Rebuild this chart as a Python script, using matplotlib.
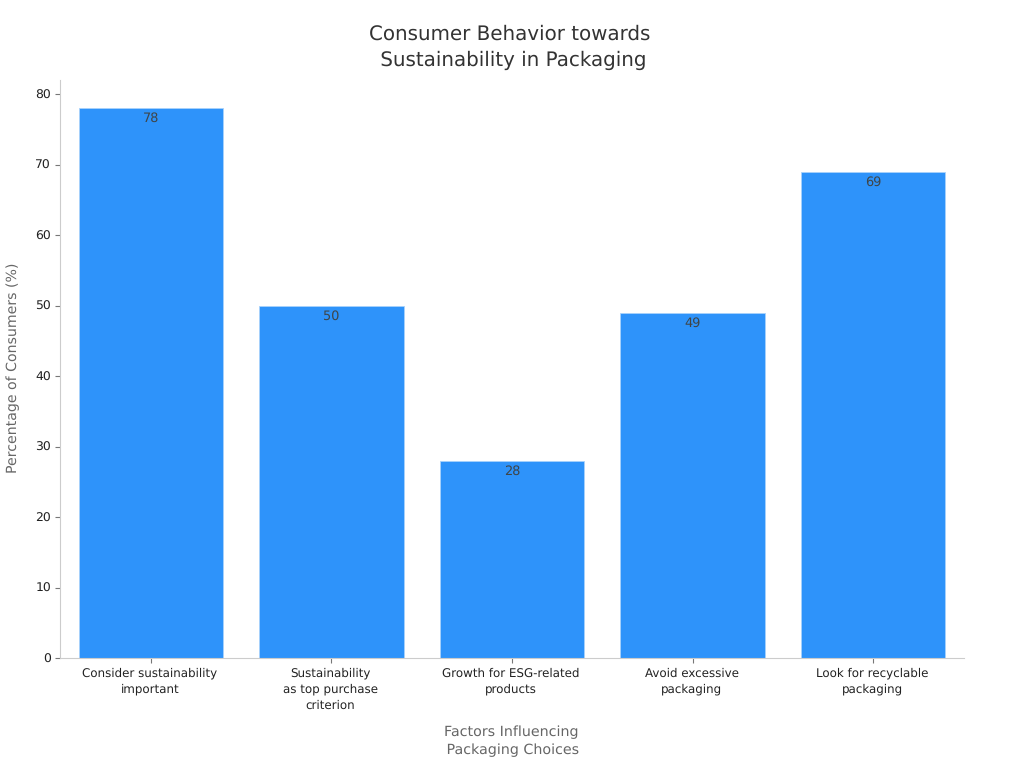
import matplotlib
matplotlib.use("Agg")
import matplotlib.pyplot as plt
from matplotlib.transforms import ScaledTranslation

plt.rcParams["text.hinting"] = "no_hinting"

factors = ["Consider sustainability\nimportant", "Sustainability\nas top purchase\ncriterion",
           "Growth for ESG-related\nproducts", "Avoid excessive\npackaging", "Look for recyclable\npackaging"]
percentages = [78, 50, 28, 49, 69]
yticks = [0, 10, 20, 30, 40, 50, 60, 70, 80]

fig = plt.figure(figsize=(10.24, 7.68), dpi=100)
ax = fig.add_axes([60/1024, 1-658/768, (964-60)/1024, (658-80)/768])

bars = ax.bar(range(len(factors)), percentages, width=0.798, color="#2e93fa", edgecolor="#a9d2fb", linewidth=0.6)
for i, v in enumerate(percentages):
    ax.annotate(str(v), (i, v), xytext=(0, -3), textcoords="offset points", ha="center", va="top",
                fontsize=9.3, color="#3f4548")

ax.set_xlim(-0.504, 4.504)
ax.set_ylim(0, 82)
ax.set_yticks(yticks)
ax.set_xticks(range(len(factors)))
ax.set_xticklabels(factors, fontsize=8.6, color="#222222", linespacing=1.45)
ax.tick_params(axis="y", labelsize=8.9, labelcolor="#222222", color="#777777", length=3.5, width=0.8, pad=3)
ax.tick_params(axis="x", color="#777777", length=3.6, width=0.8, pad=3.5)
# labels sit a little left of their ticks in the original
for label in ax.get_xticklabels():
    label.set_transform(label.get_transform() + ScaledTranslation(-1.0/100, 0, fig.dpi_scale_trans))
ax.spines["top"].set_visible(False)
ax.spines["right"].set_visible(False)
ax.spines["left"].set_color("#cccccc")
ax.spines["bottom"].set_color("#cccccc")

fig.text(510/1024, 1-47/768, "Consumer Behavior towards\n Sustainability in Packaging", ha="center", va="center",
         fontsize=14.3, color="#333333", linespacing=1.45)
fig.text(511/1024, 1-741.5/768, "Factors Influencing\n Packaging Choices", ha="center", va="center",
         fontsize=10.25, color="#666666", linespacing=1.4)
fig.text(13.5/1024, 1-368/768, "Percentage of Consumers (%)", ha="center", va="center", rotation=90,
         fontsize=10.2, color="#666666")

fig.savefig("out.png", dpi=100)
